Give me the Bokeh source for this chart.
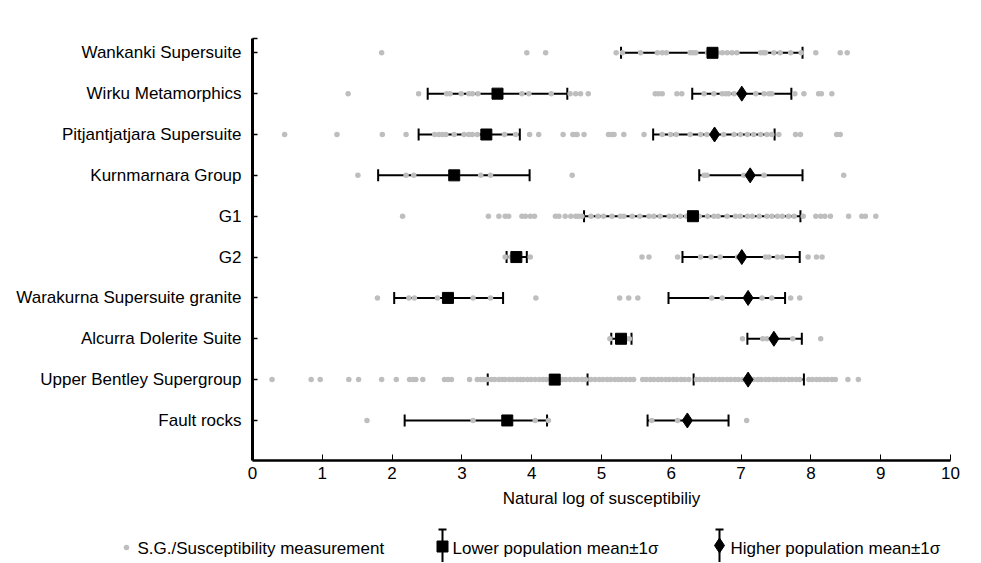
from bokeh.plotting import figure
from bokeh.models import (ColumnDataSource, Range1d, FixedTicker, Whisker, TeeHead)
from bokeh.layouts import column, row
from bokeh.core.properties import value
from bokeh.embed import file_html
from bokeh.resources import INLINE

# ---------------- data ----------------
categories = ["Wankanki Supersuite", "Wirku Metamorphics", "Pitjantjatjara Supersuite",
              "Kurnmarnara Group", "G1", "G2", "Warakurna Supersuite granite",
              "Alcurra Dolerite Suite", "Upper Bentley Supergroup", "Fault rocks"]
# vertical slot of each category (10 = top row, 1 = bottom row)
cat_pos = [10, 9, 8, 7, 6, 5, 4, 3, 2, 1]

wankanki_dots = [1.85, 3.93, 4.20, 5.21, 5.30, 5.56, 5.80, 5.87, 5.93, 6.27, 6.31, 6.35, 6.52,
                 6.66, 6.73, 6.80, 6.87, 6.94, 7.28, 7.32, 7.35, 7.47, 7.56, 7.71, 7.86, 8.07,
                 8.42, 8.52]
wirku_dots = [1.37, 2.38, 2.78, 2.83, 2.99, 3.10, 3.15, 3.23, 3.86, 3.96, 4.28, 4.55, 4.63,
              4.70, 4.81, 5.77, 5.82, 5.87, 6.08, 6.15, 6.47, 6.61, 6.73, 6.78, 6.82, 6.90,
              7.21, 7.33, 7.40, 7.44, 7.77, 7.90, 8.11, 8.15, 8.30]
pitjantjatjara_dots = [0.46, 1.21, 1.86, 2.20, 2.61, 2.67, 2.72, 2.77, 2.89, 3.03, 3.10, 3.15,
                       3.22, 3.61, 3.77, 3.97, 4.10, 4.45, 4.59, 4.63, 4.65, 4.75, 5.10, 5.14,
                       5.18, 5.32, 5.61, 5.87, 5.99, 6.07, 6.27, 6.42, 6.51, 6.75, 6.90, 6.99,
                       7.09, 7.18, 7.28, 7.37, 7.44, 7.54, 7.78, 7.85, 8.37, 8.42]
kurnmarnara_dots = [1.51, 2.20, 2.31, 3.27, 3.41, 4.58, 6.47, 6.51, 7.04, 7.33, 8.47]
g1_dots = [2.15, 3.38, 3.53, 3.62, 3.67, 3.86, 3.91, 3.98, 4.04, 4.34, 4.39, 4.48, 4.56, 4.63,
           4.67, 4.72, 4.85, 4.95, 5.03, 5.15, 5.27, 5.32, 5.44, 5.55, 5.68, 5.75, 5.84, 5.97,
           6.04, 6.13, 6.22, 6.40, 6.52, 6.61, 6.67, 6.80, 6.92, 6.99, 7.09, 7.16, 7.26, 7.37,
           7.44, 7.52, 7.59, 7.68, 7.76, 7.89, 8.07, 8.14, 8.20, 8.28, 8.54, 8.73, 8.78, 8.93]
g2_dots = [3.62, 3.70, 3.98, 5.58, 5.68, 6.09, 6.42, 6.57, 6.70, 6.95, 7.35, 7.40, 7.52, 7.59,
           7.96, 8.08, 8.16]
warakurna_dots = [1.79, 2.24, 2.32, 2.65, 3.16, 3.41, 4.06, 5.26, 5.39, 5.52, 6.58, 6.73, 7.30,
                  7.44, 7.71, 7.84]
alcurra_dots = [5.12, 5.35, 5.40, 7.02, 7.31, 7.37, 7.74, 8.14]
bentley_dots = [0.28, 0.84, 0.97, 1.38, 1.52, 1.85, 2.06, 2.25, 2.30, 2.34, 2.44, 2.75, 2.80,
                2.85, 3.11, 3.22, 3.27, 3.31, 3.36, 3.42, 3.47, 3.53, 3.58, 3.62, 3.68, 3.73,
                3.79, 3.84, 3.88, 3.94, 3.99, 4.05, 4.11, 4.16, 4.21, 4.27, 4.38, 4.44, 4.49,
                4.55, 4.61, 4.66, 4.72, 4.77, 4.85, 4.91, 4.97, 5.02, 5.08, 5.13, 5.19, 5.24,
                5.29, 5.35, 5.41, 5.46, 5.59, 5.64, 5.70, 5.75, 5.81, 5.86, 5.92, 5.97, 6.03,
                6.08, 6.14, 6.19, 6.25, 6.36, 6.41, 6.47, 6.52, 6.58, 6.63, 6.69, 6.74, 6.80,
                6.85, 6.91, 6.96, 7.02, 7.18, 7.24, 7.29, 7.35, 7.40, 7.46, 7.51, 7.57, 7.62,
                7.68, 7.73, 7.79, 7.84, 7.97, 8.02, 8.08, 8.13, 8.19, 8.24, 8.30, 8.35, 8.53,
                8.68]
fault_dots = [1.64, 3.16, 4.05, 4.24, 5.72, 6.09, 7.08]

dots_per_cat = [wankanki_dots, wirku_dots, pitjantjatjara_dots, kurnmarnara_dots, g1_dots,
                g2_dots, warakurna_dots, alcurra_dots, bentley_dots, fault_dots]

# lower population (square) mean and mean-1sigma / mean+1sigma, one per category
lower_mean = [6.59, 3.51, 3.35, 2.89, 6.31, 3.78, 2.80, 5.28, 4.33, 3.65]
lower_lo = [5.28, 2.51, 2.38, 1.80, 4.75, 3.64, 2.03, 5.14, 3.37, 2.18]
lower_hi = [7.88, 4.51, 3.83, 3.97, 7.85, 3.93, 3.59, 5.43, 4.80, 4.22]

# higher population (diamond)
higher_cats = ["Wirku Metamorphics", "Pitjantjatjara Supersuite", "Kurnmarnara Group", "G2",
               "Warakurna Supersuite granite", "Alcurra Dolerite Suite",
               "Upper Bentley Supergroup", "Fault rocks"]
higher_mean = [7.01, 6.62, 7.13, 7.01, 7.10, 7.47, 7.10, 6.23]
higher_lo = [6.30, 5.74, 6.40, 6.16, 5.96, 7.09, 6.32, 5.66]
higher_hi = [7.72, 7.48, 7.88, 7.84, 7.63, 7.87, 7.90, 6.82]

x_ticks = [0, 1, 2, 3, 4, 5, 6, 7, 8, 9, 10]
x_title = "Natural log of susceptibiliy"
legend_labels = ["S.G./Susceptibility measurement", "Lower population mean\u00b11\u03c3",
                 "Higher population mean\u00b11\u03c3"]

# ---------------- build sources ----------------
pos_of = dict(zip(categories, cat_pos))
dx, dy = [], []
for cat, vals in zip(categories, dots_per_cat):
    dx.extend(vals)
    dy.extend([pos_of[cat]] * len(vals))
dots_src = ColumnDataSource(dict(x=dx, y=dy))
low_src = ColumnDataSource(dict(y=cat_pos, m=lower_mean, lo=lower_lo, hi=lower_hi))
high_src = ColumnDataSource(dict(y=[pos_of[c] for c in higher_cats], m=higher_mean,
                                 lo=higher_lo, hi=higher_hi))

FONT = "Liberation Sans"
FS = "17px"
GRAY = "#bebebe"

p = figure(width=968, height=515, output_backend="svg", toolbar_location=None,
           x_range=Range1d(0, 10), y_range=Range1d(0.02, 10.35),
           min_border_left=252, min_border_right=18, min_border_top=38,
           min_border_bottom=55)
p.outline_line_color = None
p.xgrid.visible = False
p.ygrid.visible = False
p.background_fill_color = "white"

p.scatter("x", "y", source=dots_src, size=5.5, color=GRAY, line_color=None)

for src in (low_src, high_src):
    w = Whisker(source=src, base="y", lower="lo", upper="hi", dimension="width",
                line_color="black", line_width=2,
                upper_head=TeeHead(size=12, line_color="black", line_width=2),
                lower_head=TeeHead(size=12, line_color="black", line_width=2))
    p.add_layout(w)

p.scatter("m", "y", source=low_src, marker="square", size=11, color="black")
p.scatter("m", "y", source=high_src, marker="diamond", size=15, color="black")

# x axis
xa = p.xaxis[0]
xa.ticker = FixedTicker(ticks=x_ticks)
xa.axis_line_width = 2.5
xa.axis_line_color = "black"
xa.major_tick_in = 6
xa.major_tick_out = 0
xa.minor_tick_line_color = None
xa.major_label_text_font = FONT
xa.major_label_text_font_size = FS
xa.major_label_text_color = "black"
xa.major_label_standoff = 6
xa.axis_label = x_title
xa.axis_label_text_font = FONT
xa.axis_label_text_font_size = FS
xa.axis_label_text_font_style = "normal"
xa.axis_label_text_color = "black"
xa.axis_label_standoff = 7

# y axis
ya = p.yaxis[0]
ya.ticker = FixedTicker(ticks=cat_pos + [10.34])
overrides = {pos_of[c]: c for c in categories}
overrides[10.34] = ""
ya.major_label_overrides = overrides
ya.axis_line_width = 3
ya.axis_line_color = "black"
ya.major_tick_in = 5
ya.major_tick_out = 0
ya.major_tick_line_width = 1.5
ya.minor_tick_line_color = None
ya.major_label_text_font = FONT
ya.major_label_text_font_size = FS
ya.major_label_text_color = "black"
ya.major_label_standoff = 11

# ---------------- legend strip (page-pixel coordinates) ----------------
leg = figure(width=968, height=47, output_backend="svg", toolbar_location=None,
             x_range=Range1d(0, 968), y_range=Range1d(562, 515),
             min_border_left=0, min_border_right=0,
             min_border_top=0, min_border_bottom=0)
leg.axis.visible = False
leg.xgrid.visible = False
leg.ygrid.visible = False
leg.outline_line_color = None
for fig in (p, leg):
    if "frame_align" in fig.properties():
        fig.frame_align = False

leg_x = [126, 442, 719]
leg.scatter([leg_x[0]], [547], size=5.5, color=GRAY, line_color=None)
leg.segment(x0=leg_x[1:], y0=[529, 529], x1=leg_x[1:], y1=[575, 575],
            line_color="black", line_width=2)
leg.segment(x0=[x - 4 for x in leg_x[1:]], y0=[529, 529], x1=[x + 4 for x in leg_x[1:]],
            y1=[529, 529], line_color="black", line_width=2)
leg.scatter([leg_x[1]], [546], marker="square", size=11, color="black")
leg.scatter([leg_x[2]], [545], marker="diamond", size=15, color="black")
leg.text(x=[137, 452, 730], y=[548, 548, 548], text=legend_labels,
         text_font=value(FONT), text_font_size=FS, text_baseline="middle",
         text_align="left", text_color="black")

layout = column(p, row(leg), spacing=0)
open("out.html", "w").write(file_html(layout, INLINE))
